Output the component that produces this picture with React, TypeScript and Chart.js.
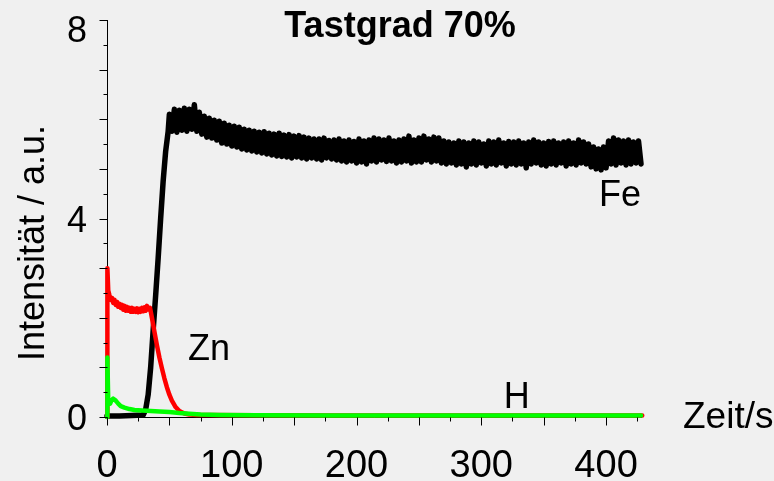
import { useEffect, useRef } from 'react';
import { Chart, registerables } from 'chart.js';

Chart.register(...registerables);

// Glow-discharge depth profile: intensities of Fe, Zn and H over sputter time.
// The Fe signal after the coating is sputtered away is strongly noisy; it is
// sampled every 2 s and the samples swing between the upper and lower edge of the noise.
const feTime = [
  0, 10, 20, 29, 31, 33, 35, 37, 39, 41, 43, 45, 47, 49,
  50, 52, 54, 56, 58, 60, 62, 64, 66, 68,
  70, 72, 74, 76, 78, 80, 82, 84, 86, 88,
  90, 92, 94, 96, 98, 100, 102, 104, 106, 108,
  110, 112, 114, 116, 118, 120, 122, 124, 126, 128,
  130, 132, 134, 136, 138, 140, 142, 144, 146, 148,
  150, 152, 154, 156, 158, 160, 162, 164, 166, 168,
  170, 172, 174, 176, 178, 180, 182, 184, 186, 188,
  190, 192, 194, 196, 198, 200, 202, 204, 206, 208,
  210, 212, 214, 216, 218, 220, 222, 224, 226, 228,
  230, 232, 234, 236, 238, 240, 242, 244, 246, 248,
  250, 252, 254, 256, 258, 260, 262, 264, 266, 268,
  270, 272, 274, 276, 278, 280, 282, 284, 286, 288,
  290, 292, 294, 296, 298, 300, 302, 304, 306, 308,
  310, 312, 314, 316, 318, 320, 322, 324, 326, 328,
  330, 332, 334, 336, 338, 340, 342, 344, 346, 348,
  350, 352, 354, 356, 358, 360, 362, 364, 366, 368,
  370, 372, 374, 376, 378, 380, 382, 384, 386, 388,
  390, 392, 394, 396, 398, 400, 402, 404, 406, 408,
  410, 412, 414, 416, 418, 420, 422, 424, 426, 428,
];
const feValue = [
  0.02, 0.02, 0.03, 0.04, 0.15, 0.45, 1.0, 1.75, 2.45, 3.2, 4.0, 4.75, 5.35, 5.75,
  6.1, 5.76, 6.2, 5.74, 6.18, 5.78, 6.22, 5.76, 6.2, 5.8,
  6.29, 5.76, 6.14, 5.7, 6.06, 5.64, 6.02, 5.62, 5.98, 5.58,
  5.96, 5.52, 5.92, 5.5, 5.88, 5.46, 5.86, 5.44, 5.84, 5.4,
  5.8, 5.38, 5.78, 5.36, 5.76, 5.34, 5.74, 5.32, 5.75, 5.3,
  5.72, 5.28, 5.7, 5.26, 5.72, 5.25, 5.68, 5.24, 5.69, 5.22,
  5.66, 5.24, 5.67, 5.22, 5.64, 5.2, 5.62, 5.22, 5.6, 5.2,
  5.6, 5.18, 5.62, 5.22, 5.57, 5.2, 5.58, 5.18, 5.6, 5.16,
  5.56, 5.14, 5.58, 5.16, 5.55, 5.12, 5.6, 5.14, 5.56, 5.1,
  5.58, 5.16, 5.62, 5.14, 5.6, 5.18, 5.58, 5.15, 5.62, 5.16,
  5.56, 5.12, 5.58, 5.14, 5.6, 5.16, 5.66, 5.12, 5.58, 5.14,
  5.62, 5.14, 5.66, 5.18, 5.6, 5.14, 5.64, 5.16, 5.62, 5.12,
  5.56, 5.1, 5.54, 5.12, 5.52, 5.08, 5.56, 5.1, 5.54, 5.04,
  5.52, 5.1, 5.56, 5.08, 5.54, 5.12, 5.5, 5.06, 5.56, 5.1,
  5.54, 5.08, 5.58, 5.12, 5.52, 5.06, 5.55, 5.1, 5.54, 5.08,
  5.56, 5.1, 5.52, 5.02, 5.54, 5.1, 5.58, 5.12, 5.54, 5.08,
  5.52, 5.06, 5.55, 5.1, 5.56, 5.08, 5.52, 5.12, 5.54, 5.06,
  5.56, 5.1, 5.52, 5.08, 5.58, 5.12, 5.54, 5.1, 5.5, 5.04,
  5.44, 5.0, 5.4, 4.98, 5.44, 5.02, 5.56, 5.1, 5.62, 5.08,
  5.58, 5.12, 5.56, 5.08, 5.58, 5.1, 5.54, 5.12, 5.56, 5.1,
];

const znTime = [
  0, 0.3, 1, 2, 3, 4, 5, 6, 7, 8, 9, 10, 11, 12, 13, 14, 15, 16, 17, 18, 19, 20, 21, 22, 23, 24,
  25, 26, 27, 28, 29, 30, 31, 32, 33, 34.5,
  36, 38, 40, 42, 44, 46, 48, 50, 52, 55, 58, 62, 66, 72, 80, 120, 180, 250, 320, 390, 429,
];
const znValue = [
  0, 3.0, 2.55, 2.45, 2.36, 2.4, 2.3, 2.36, 2.26, 2.32, 2.22, 2.28, 2.2, 2.26, 2.16, 2.24, 2.14, 2.22, 2.14, 2.2, 2.12, 2.2, 2.12, 2.18, 2.12, 2.19,
  2.11, 2.18, 2.12, 2.2, 2.13, 2.21, 2.14, 2.24, 2.17, 2.2,
  2.0, 1.72, 1.45, 1.2, 0.98, 0.78, 0.6, 0.45, 0.33, 0.2, 0.12, 0.07, 0.05, 0.04, 0.04, 0.035, 0.03, 0.03, 0.03, 0.03, 0.03,
];

const hTime = [
  0, 0.3, 1, 2.5, 3.5, 5, 7, 9, 11, 14, 18, 22, 28, 35, 42, 50, 58, 66, 75, 90, 120, 180, 250, 320, 390, 428,
];
const hValue = [
  0, 1.2, 0.3, 0.27, 0.33, 0.37, 0.33, 0.27, 0.22, 0.19, 0.16, 0.14, 0.13, 0.12, 0.11, 0.1, 0.08, 0.065, 0.05, 0.04,
  0.035, 0.03, 0.03, 0.03, 0.03, 0.03,
];

// Axis ticks and labels
const xTickMarks = [0, 25, 50, 75, 100, 125, 150, 175, 200, 225, 250, 275, 300, 325, 350, 375, 400, 425];
const xLabelValues = [0, 100, 200, 300, 400];
const xTickLabels = ['0', '100', '200', '300', '400'];
const yTickMarks = [0, 0.5, 1, 1.5, 2, 2.5, 3, 3.5, 4, 4.5, 5, 5.5, 6, 6.5, 7, 7.5, 8];
const yLabelValues = [0, 4, 8];
const yTickLabels = ['0', '4', '8'];

const FONT = '"Liberation Sans", Arial, sans-serif';

const toPoints = (t: number[], v: number[]) => t.map((x, i) => ({ x, y: v[i] }));

const decorations = {
  id: 'decorations',
  afterDraw(chart: any) {
    const { ctx, scales } = chart;
    const xs = scales.x;
    const ys = scales.y;
    const axisY = Math.round(ys.getPixelForValue(0)) + 0.5;
    const axisX = Math.round(xs.getPixelForValue(0)) + 0.5;
    ctx.save();
    ctx.strokeStyle = '#000';
    ctx.lineWidth = 1;
    ctx.beginPath();
    for (const v of xTickMarks) {
      const px = Math.round(xs.getPixelForValue(v)) + 0.5;
      const len = v % 50 === 0 ? 8 : 4;
      ctx.moveTo(px, axisY);
      ctx.lineTo(px, axisY + len);
    }
    for (const v of yTickMarks) {
      const py = Math.round(ys.getPixelForValue(v)) + 0.5;
      const len = v % 1 === 0 ? 8 : 4;
      ctx.moveTo(axisX, py);
      ctx.lineTo(axisX - len, py);
    }
    ctx.stroke();

    ctx.fillStyle = '#000';
    ctx.textBaseline = 'alphabetic';

    // tick labels
    ctx.font = `38px ${FONT}`;
    ctx.textAlign = 'center';
    xLabelValues.forEach((v, i) => {
      ctx.fillText(xTickLabels[i], xs.getPixelForValue(v), 477);
    });
    ctx.font = `36px ${FONT}`;
    ctx.textAlign = 'right';
    yLabelValues.forEach((v, i) => {
      const py = ys.getPixelForValue(v) + 13;
      ctx.fillText(yTickLabels[i], 87, Math.max(py, 42));
    });

    // title
    ctx.font = `bold 36px ${FONT}`;
    ctx.textAlign = 'center';
    ctx.fillText('Tastgrad 70%', 400, 37);

    // axis titles
    ctx.font = `37px ${FONT}`;
    ctx.textAlign = 'left';
    ctx.fillText('Zeit/s', 683, 428);
    ctx.save();
    ctx.translate(44, 243);
    ctx.rotate(-Math.PI / 2);
    ctx.textAlign = 'center';
    ctx.font = `36px ${FONT}`;
    ctx.fillText('Intensität / a.u.', 0, 0);
    ctx.restore();

    // series labels
    ctx.font = `36px ${FONT}`;
    ctx.textAlign = 'right';
    ctx.fillText('Fe', xs.getPixelForValue(428), ys.getPixelForValue(4.25));
    ctx.textAlign = 'left';
    ctx.fillText('Zn', xs.getPixelForValue(65), ys.getPixelForValue(1.14));
    ctx.fillText('H', xs.getPixelForValue(318), ys.getPixelForValue(0.175));
    ctx.restore();
  },
};

export default function App() {
  const canvasRef = useRef<HTMLCanvasElement | null>(null);

  useEffect(() => {
    const canvas = canvasRef.current;
    if (!canvas) return;
    const lineStyle = {
      pointRadius: 0,
      tension: 0,
      fill: false,
      clip: false,
      borderJoinStyle: 'round',
      borderCapStyle: 'round',
    };
    const chart = new Chart(canvas, {
      type: 'line',
      data: {
        datasets: [
          { label: 'H', data: toPoints(hTime, hValue), borderColor: '#00ff00', borderWidth: 4.5, ...lineStyle },
          { label: 'Zn', data: toPoints(znTime, znValue), borderColor: '#ff0000', borderWidth: 4.5, ...lineStyle },
          { label: 'Fe', data: toPoints(feTime, feValue), borderColor: '#000000', borderWidth: 5.5, ...lineStyle },
        ],
      } as any,
      options: {
        animation: false,
        responsive: false,
        events: [],
        layout: { padding: { left: 107, top: 20, right: 133, bottom: 64 } },
        plugins: {
          legend: { display: false },
          tooltip: { enabled: false },
          title: { display: false },
        },
        scales: {
          x: {
            type: 'linear',
            min: 0,
            max: 428,
            grid: { display: false, drawTicks: false },
            border: { display: true, color: '#000', width: 1 },
            ticks: { display: false },
          },
          y: {
            type: 'linear',
            min: 0,
            max: 8,
            grid: { display: false, drawTicks: false },
            border: { display: true, color: '#000', width: 1 },
            ticks: { display: false },
          },
        },
      },
      plugins: [decorations],
    });
    return () => chart.destroy();
  }, []);

  return (
    <div
      style={{
        position: 'fixed',
        left: 0,
        top: 0,
        width: 774,
        height: 481,
        background: '#f0f0f0',
      }}
    >
      <canvas ref={canvasRef} width={774} height={481} style={{ display: 'block' }} />
    </div>
  );
}
